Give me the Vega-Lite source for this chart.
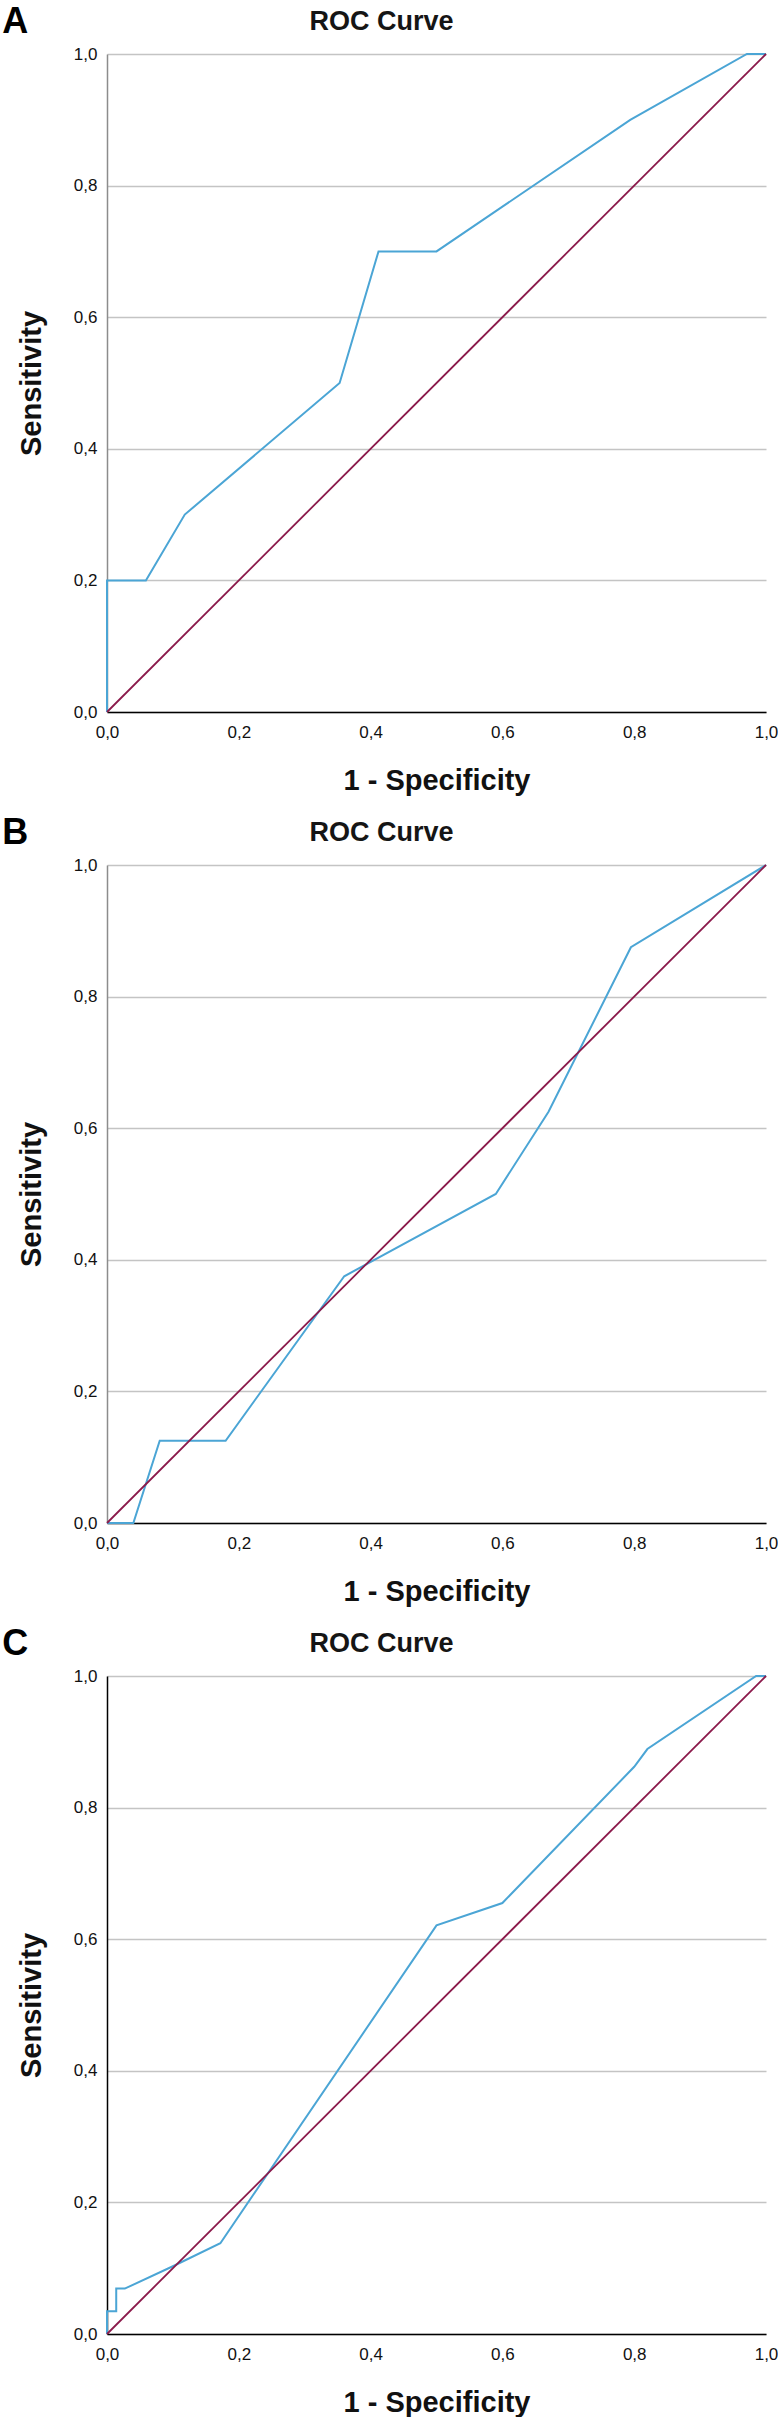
{
  "$schema": "https://vega.github.io/schema/vega-lite/v6.json",
  "background": "white",
  "padding": {"left": 2, "top": 4, "right": 0, "bottom": 0},
  "spacing": 20,
  "datasets": {
    "rocA": [
      {"fpr": 0.0, "tpr": 0.0},
      {"fpr": 0.0, "tpr": 0.2},
      {"fpr": 0.059, "tpr": 0.2},
      {"fpr": 0.118, "tpr": 0.3},
      {"fpr": 0.353, "tpr": 0.5},
      {"fpr": 0.412, "tpr": 0.7},
      {"fpr": 0.5, "tpr": 0.7},
      {"fpr": 0.794, "tpr": 0.9},
      {"fpr": 0.971, "tpr": 1.0},
      {"fpr": 1.0, "tpr": 1.0}
    ],
    "rocB": [
      {"fpr": 0.0, "tpr": 0.0},
      {"fpr": 0.04, "tpr": 0.0},
      {"fpr": 0.08, "tpr": 0.125},
      {"fpr": 0.18, "tpr": 0.125},
      {"fpr": 0.36, "tpr": 0.375},
      {"fpr": 0.59, "tpr": 0.5},
      {"fpr": 0.67, "tpr": 0.625},
      {"fpr": 0.795, "tpr": 0.875},
      {"fpr": 1.0, "tpr": 1.0}
    ],
    "rocC": [
      {"fpr": 0.0, "tpr": 0.0},
      {"fpr": 0.0, "tpr": 0.0345},
      {"fpr": 0.014, "tpr": 0.0345},
      {"fpr": 0.014, "tpr": 0.069},
      {"fpr": 0.027, "tpr": 0.069},
      {"fpr": 0.1, "tpr": 0.103},
      {"fpr": 0.172, "tpr": 0.138},
      {"fpr": 0.5, "tpr": 0.621},
      {"fpr": 0.6, "tpr": 0.655},
      {"fpr": 0.8, "tpr": 0.862},
      {"fpr": 0.82, "tpr": 0.889},
      {"fpr": 0.985, "tpr": 1.0},
      {"fpr": 1.0, "tpr": 1.0}
    ],
    "reference": [
      {"fpr": 0.0, "tpr": 0.0},
      {"fpr": 1.0, "tpr": 1.0}
    ]
  },
  "vconcat": [
    {
      "title": {"text": "A", "anchor": "start", "frame": "bounds", "fontSize": 36, "fontWeight": "bold", "color": "#000", "dx": -15, "offset": -33},
      "vconcat": [
        {
          "width": 659,
          "height": 658,
          "title": {"text": "ROC Curve", "anchor": "middle", "frame": "bounds", "fontSize": 27, "fontWeight": "bold", "color": "#151515", "offset": 9, "dx": -16},
          "layer": [
            {
              "data": {"name": "rocA"},
              "mark": {"type": "line", "color": "#4ba5d5", "strokeWidth": 2},
              "encoding": {
                "x": {"field": "fpr", "type": "quantitative", "scale": {"domain": [0, 1], "nice": false},
                      "axis": {"title": "1 - Specificity", "values": [0, 0.2, 0.4, 0.6, 0.8, 1], "labelExpr": "replace(format(datum.value, '.1f'), '.', ',')"}},
                "y": {"field": "tpr", "type": "quantitative", "scale": {"domain": [0, 1], "nice": false},
                      "axis": {"title": "Sensitivity", "domainColor": "#8c8c8c", "values": [0, 0.2, 0.4, 0.6, 0.8, 1], "labelExpr": "replace(format(datum.value, '.1f'), '.', ',')"}},
                "order": {"value": null}
              }
            },
            {
              "data": {"name": "reference"},
              "mark": {"type": "line", "color": "#8b1a4b", "strokeWidth": 1.8},
              "encoding": {
                "x": {"field": "fpr", "type": "quantitative"},
                "y": {"field": "tpr", "type": "quantitative"}
              }
            }
          ]
        }
      ]
    },
    {
      "title": {"text": "B", "anchor": "start", "frame": "bounds", "fontSize": 36, "fontWeight": "bold", "color": "#000", "dx": -15, "offset": -33},
      "vconcat": [
        {
          "width": 659,
          "height": 658,
          "title": {"text": "ROC Curve", "anchor": "middle", "frame": "bounds", "fontSize": 27, "fontWeight": "bold", "color": "#151515", "offset": 9, "dx": -16},
          "layer": [
            {
              "data": {"name": "rocB"},
              "mark": {"type": "line", "color": "#4ba5d5", "strokeWidth": 2},
              "encoding": {
                "x": {"field": "fpr", "type": "quantitative", "scale": {"domain": [0, 1], "nice": false},
                      "axis": {"title": "1 - Specificity", "values": [0, 0.2, 0.4, 0.6, 0.8, 1], "labelExpr": "replace(format(datum.value, '.1f'), '.', ',')"}},
                "y": {"field": "tpr", "type": "quantitative", "scale": {"domain": [0, 1], "nice": false},
                      "axis": {"title": "Sensitivity", "domainColor": "#8c8c8c", "values": [0, 0.2, 0.4, 0.6, 0.8, 1], "labelExpr": "replace(format(datum.value, '.1f'), '.', ',')"}},
                "order": {"value": null}
              }
            },
            {
              "data": {"name": "reference"},
              "mark": {"type": "line", "color": "#8b1a4b", "strokeWidth": 1.8},
              "encoding": {
                "x": {"field": "fpr", "type": "quantitative"},
                "y": {"field": "tpr", "type": "quantitative"}
              }
            }
          ]
        }
      ]
    },
    {
      "title": {"text": "C", "anchor": "start", "frame": "bounds", "fontSize": 36, "fontWeight": "bold", "color": "#000", "dx": -15, "offset": -33},
      "vconcat": [
        {
          "width": 659,
          "height": 658,
          "title": {"text": "ROC Curve", "anchor": "middle", "frame": "bounds", "fontSize": 27, "fontWeight": "bold", "color": "#151515", "offset": 9, "dx": -16},
          "layer": [
            {
              "data": {"name": "rocC"},
              "mark": {"type": "line", "color": "#4ba5d5", "strokeWidth": 2},
              "encoding": {
                "x": {"field": "fpr", "type": "quantitative", "scale": {"domain": [0, 1], "nice": false},
                      "axis": {"title": "1 - Specificity", "values": [0, 0.2, 0.4, 0.6, 0.8, 1], "labelExpr": "replace(format(datum.value, '.1f'), '.', ',')"}},
                "y": {"field": "tpr", "type": "quantitative", "scale": {"domain": [0, 1], "nice": false},
                      "axis": {"title": "Sensitivity", "domainColor": "#000000", "values": [0, 0.2, 0.4, 0.6, 0.8, 1], "labelExpr": "replace(format(datum.value, '.1f'), '.', ',')"}},
                "order": {"value": null}
              }
            },
            {
              "data": {"name": "reference"},
              "mark": {"type": "line", "color": "#8b1a4b", "strokeWidth": 1.8},
              "encoding": {
                "x": {"field": "fpr", "type": "quantitative"},
                "y": {"field": "tpr", "type": "quantitative"}
              }
            }
          ]
        }
      ]
    }
  ],
  "config": {
    "font": "Liberation Sans",
    "view": {"stroke": null},
    "title": {"font": "Liberation Sans"},
    "axis": {
      "labelFont": "Liberation Sans",
      "titleFont": "Liberation Sans",
      "labelColor": "#111",
      "titleColor": "#111",
      "labelFontSize": 17,
      "ticks": false,
      "tickSize": 0,
      "labelFlush": false,
      "labelOverlap": false,
      "domainWidth": 1.5,
      "titleFontWeight": "bold"
    },
    "axisX": {
      "grid": false,
      "domainColor": "#000000",
      "labelPadding": 12,
      "titleFontSize": 29,
      "titlePadding": 26,
      "zindex": 1
    },
    "axisY": {
      "grid": true,
      "gridColor": "#c4c4c4",
      "gridWidth": 1.5,
      "labelPadding": 10,
      "titleFontSize": 29,
      "titlePadding": 27
    }
  }
}
